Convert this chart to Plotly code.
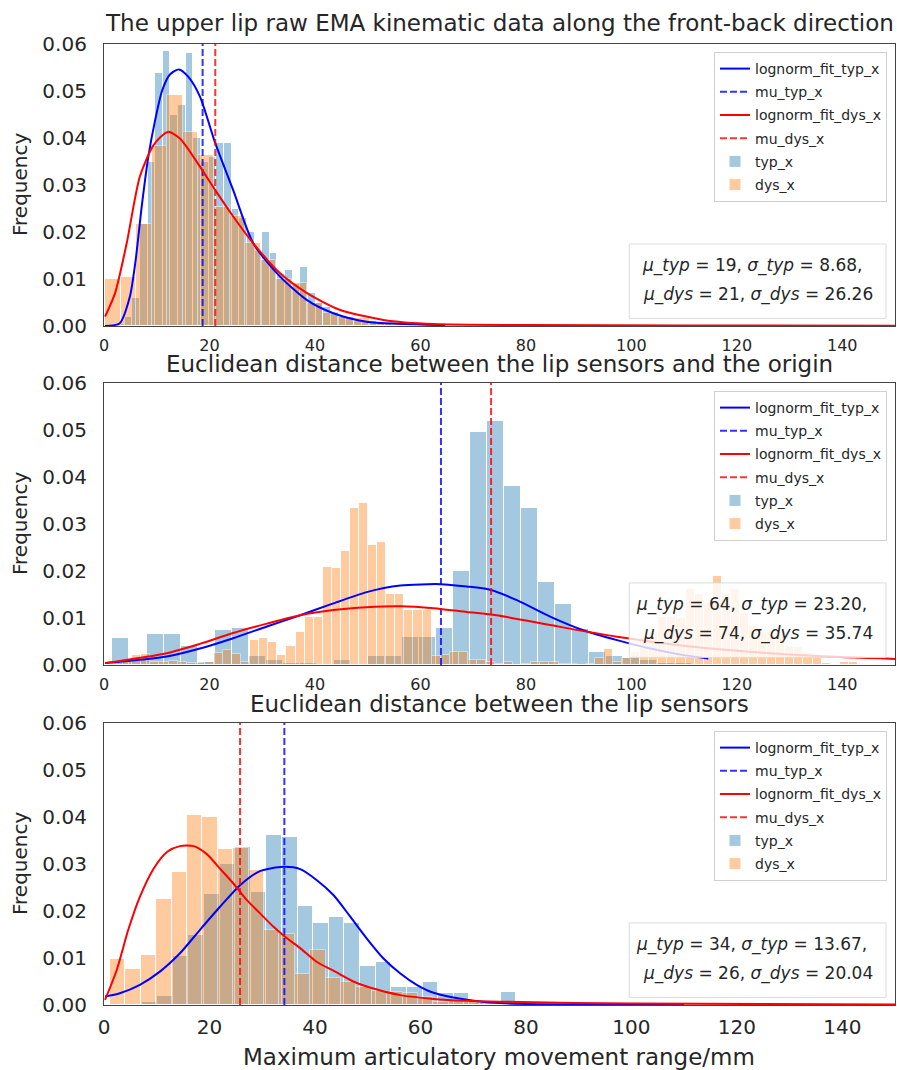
import plotly.graph_objects as go

# ---------------- data ----------------
titles = [
    "The upper lip raw EMA kinematic data along the front-back direction",
    "Euclidean distance between the lip sensors and the origin",
    "Euclidean distance between the lip sensors",
]
x_label = "Maximum articulatory movement range/mm"
y_label = "Frequency"
x_ticks = [0, 20, 40, 60, 80, 100, 120, 140]
y_ticks = [0.00, 0.01, 0.02, 0.03, 0.04, 0.05, 0.06]
stats_line1 = ["<i>μ_typ</i> = 19, <i>σ_typ</i> = 8.68,",
               "<i>μ_typ</i> = 64, <i>σ_typ</i> = 23.20,",
               "<i>μ_typ</i> = 34, <i>σ_typ</i> = 13.67,"]
stats_line2 = ["<i>μ_dys</i> = 21, <i>σ_dys</i> = 26.26",
               "<i>μ_dys</i> = 74, <i>σ_dys</i> = 35.74",
               "<i>μ_dys</i> = 26, <i>σ_dys</i> = 20.04"]

# panel 1 histograms
typ1_bin_start, typ1_bin_width = 1.0, 1.45
typ1_freq = [0.0, 0.0005, 0.002, 0.006, 0.0218, 0.035, 0.0538, 0.0586, 0.045, 0.047,
             0.058, 0.040, 0.035, 0.036, 0.039, 0.039, 0.025, 0.023, 0.0199, 0.016,
             0.0199, 0.0156, 0.011, 0.0119, 0.009, 0.0126, 0.007, 0.005, 0.004, 0.003,
             0.002, 0.002, 0.001, 0.001, 0.001, 0.0005, 0.0005, 0.0003, 0.0003, 0.0003,
             0.0002, 0.0002, 0.0002, 0.0002]
dys1_bin_start, dys1_bin_width = 0.2, 2.95
dys1_freq = [0.0101, 0.0105, 0.0217, 0.0382, 0.0491, 0.0413, 0.0364, 0.0254, 0.0233, 0.0176,
             0.014, 0.0101, 0.0091, 0.0048, 0.0027, 0.002, 0.0016, 0.0006, 0.0004, 0.0003,
             0.0002, 0.0002, 0.0001, 0.0001, 0.0001, 0.0001]

# panel 2 histograms
typ2_bin_start, typ2_bin_width = 1.6, 3.23
typ2_freq = [0.0057, 0.001, 0.0066, 0.0066, 0.004, 0.0007, 0.0074, 0.0079, 0.002, 0.001,
             0.0005, 0.0005, 0.0002, 0.001, 0.0003, 0.002, 0.002, 0.006, 0.006, 0.0078,
             0.0199, 0.0496, 0.0519, 0.038, 0.0333, 0.0177, 0.013, 0.0076, 0.0028, 0.002,
             0.0015, 0.001, 0.0005, 0.0005, 0.0003]
dys2_bin_start, dys2_bin_width = 0.2, 1.72
dys2_freq = [0.0, 0.0005, 0.0008, 0.0021, 0.0023, 0.0006, 0.0006, 0.0008, 0.0006, 0.0005,
             0.0004, 0.0007, 0.0025, 0.0032, 0.0023, 0.0006, 0.0053, 0.0057, 0.0048, 0.0021,
             0.004, 0.0071, 0.0103, 0.0103, 0.0209, 0.0206, 0.0243, 0.0333, 0.0345, 0.0255,
             0.0262, 0.0152, 0.0152, 0.0117, 0.0117, 0.0117, 0.002, 0.0021, 0.0028, 0.0028,
             0.001, 0.001, 0.0007, 0.0003, 0.0007, 0.0, 0.0003, 0.0007, 0.0007, 0.0007,
             0.0003, 0.0003, 0.0, 0.0003, 0.0014, 0.0033, 0.0007, 0.0014, 0.0028, 0.0057,
             0.0071, 0.0103, 0.0103, 0.0099, 0.0161, 0.0152, 0.0131, 0.0189, 0.0152, 0.0161,
             0.011, 0.0082, 0.0071, 0.0071, 0.0067, 0.004, 0.0039, 0.0025, 0.0014, 0.0004,
             0.0, 0.0007, 0.0007, 0.0, 0.0]

# panel 3 histograms
typ3_bin_start, typ3_bin_width = 1.2, 2.96
typ3_freq = [0.0, 0.0003, 0.0007, 0.0019, 0.0104, 0.0149, 0.0236, 0.0301, 0.0337, 0.0241,
             0.0362, 0.0358, 0.0211, 0.0174, 0.0188, 0.0174, 0.0082, 0.0091, 0.0039, 0.0038,
             0.005, 0.0025, 0.0026, 0.0008, 0.0005, 0.0028, 0.0003]
dys3_bin_start, dys3_bin_width = 1.14, 2.92
dys3_freq = [0.0097, 0.0076, 0.0106, 0.0226, 0.0284, 0.0404, 0.0401, 0.0331, 0.0335, 0.0287,
             0.016, 0.0152, 0.0066, 0.0118, 0.0057, 0.005, 0.0039, 0.003, 0.0028, 0.0026,
             0.0016, 0.0007, 0.0009, 0.0008, 0.0005, 0.0005, 0.0003, 0.0003, 0.0002]

# fitted log-normal curves
fit_typ1_x = [0.2, 3.0, 4.9, 6.0, 7.15, 8.4, 9.7, 11.0, 12.5, 14.2, 16.0, 18.2, 21.1, 24.5,
              28.3, 33.4, 38.5, 43.5, 49.8, 64.7]
fit_typ1_y = [0.0, 0.0006, 0.0062, 0.014, 0.0254, 0.036, 0.0438, 0.050, 0.0535, 0.0546,
              0.053, 0.0488, 0.0389, 0.0289, 0.0176, 0.0105, 0.0055, 0.0027, 0.0009, 0.0002]
fit_dys1_x = [0.2, 2.1, 4.3, 6.8, 9.4, 12.1, 14.4, 18.2, 21.1, 24.5, 28.3, 33.4, 38.5, 44.8,
              53.0, 62.5, 80.0, 110.0, 150.0]
fit_dys1_y = [0.002, 0.007, 0.0176, 0.0318, 0.0385, 0.0413, 0.0399, 0.0339, 0.0289, 0.0233,
              0.0176, 0.0112, 0.007, 0.0034, 0.0013, 0.0004, 0.0002, 0.0001, 0.00005]
fit_typ2_x = [0.2, 11.9, 18.2, 24.5, 30.9, 37.2, 43.5, 49.8, 56.2, 63.8, 68.8, 73.2, 78.3,
              84.6, 90.9, 97.3, 103.6, 109.9, 114.6]
fit_typ2_y = [0.0004, 0.0018, 0.0035, 0.0057, 0.0082, 0.0106, 0.0131, 0.0155, 0.0169, 0.0172,
              0.0167, 0.016, 0.0138, 0.0103, 0.0074, 0.0053, 0.0035, 0.0021, 0.0014]
fit_dys2_x = [0.2, 11.9, 18.2, 24.5, 30.9, 37.2, 43.5, 49.8, 56.2, 62.5, 68.8, 74.4, 84.6,
              97.3, 109.9, 122.5, 135.2, 150.0]
fit_dys2_y = [0.0004, 0.0025, 0.0045, 0.0068, 0.0088, 0.0106, 0.0117, 0.0123, 0.0125, 0.0121,
              0.0113, 0.0106, 0.0085, 0.006, 0.0041, 0.0028, 0.0019, 0.0013]
fit_typ3_x = [0.2, 3.0, 6.8, 10.6, 14.4, 18.2, 22.0, 25.8, 29.6, 34.0, 37.2, 40.3, 43.5, 46.7,
              49.8, 53.0, 56.2, 59.3, 62.5, 68.8, 75.1, 90.0, 110.0]
fit_typ3_y = [0.0018, 0.0025, 0.0043, 0.0071, 0.011, 0.016, 0.0209, 0.0255, 0.0285, 0.0294,
              0.0289, 0.0266, 0.0234, 0.0188, 0.0142, 0.0099, 0.0067, 0.0043, 0.0026, 0.0011,
              0.0004, 0.0001, 0.0]
fit_dys3_x = [0.2, 2.4, 4.6, 6.8, 9.4, 12.0, 14.4, 17.0, 19.5, 22.0, 24.5, 27.1, 29.6, 32.1,
              34.7, 37.2, 40.3, 43.5, 47.3, 51.1, 56.2, 62.5, 68.8, 75.1, 100.0, 150.0]
fit_dys3_y = [0.0011, 0.0074, 0.016, 0.023, 0.029, 0.0326, 0.0338, 0.0338, 0.0321, 0.029,
              0.0259, 0.0223, 0.0195, 0.0167, 0.0142, 0.0121, 0.0092, 0.0073, 0.005, 0.0035,
              0.0021, 0.0013, 0.0009, 0.0007, 0.0003, 0.0001]

# mean lines (x position of the dashed verticals)
mu_typ = [18.7, 63.9, 34.2]
mu_dys = [21.1, 73.4, 25.8]

# ---------------- figure ----------------
FONT = "DejaVu Sans"
TXT = "#262626"
W, H = 897, 1070
px_left, px_right = 104, 895
panel_px = [(44, 326), (383, 665), (723, 1005)]
title_gap = [21, 19, 19]

def bar_centers(start, width, n):
    return [start + width * (i + 0.5) for i in range(n)]

typ_hists = [(typ1_bin_start, typ1_bin_width, typ1_freq),
             (typ2_bin_start, typ2_bin_width, typ2_freq),
             (typ3_bin_start, typ3_bin_width, typ3_freq)]
dys_hists = [(dys1_bin_start, dys1_bin_width, dys1_freq),
             (dys2_bin_start, dys2_bin_width, dys2_freq),
             (dys3_bin_start, dys3_bin_width, dys3_freq)]
typ_fits = [(fit_typ1_x, fit_typ1_y), (fit_typ2_x, fit_typ2_y), (fit_typ3_x, fit_typ3_y)]
dys_fits = [(fit_dys1_x, fit_dys1_y), (fit_dys2_x, fit_dys2_y), (fit_dys3_x, fit_dys3_y)]

fig = go.Figure()
BLUE_FILL = "#1f77b4"
ORANGE_FILL = "#ff7f0e"
DASH = "7px,3px"

layout_axes = {}
annotations = []
shapes = []
legends = {}

for i in range(3):
    sfx = "" if i == 0 else str(i + 1)
    xa, ya = "x" + sfx, "y" + sfx
    leg = "legend" + sfx
    top, bot = panel_px[i]
    ydom = [1 - bot / H, 1 - top / H]
    xdom = [px_left / W, px_right / W]

    s, w, f = typ_hists[i]
    fig.add_trace(go.Bar(x=bar_centers(s, w, len(f)), y=f, width=w, name="typ_x",
                         marker=dict(color=BLUE_FILL, line=dict(color="white", width=1)),
                         opacity=0.4, xaxis=xa, yaxis=ya, legend=leg, legendrank=5,
                         legendgroup=f"g5_{i}"))
    s, w, f = dys_hists[i]
    fig.add_trace(go.Bar(x=bar_centers(s, w, len(f)), y=f, width=w, name="dys_x",
                         marker=dict(color=ORANGE_FILL, line=dict(color="white", width=1)),
                         opacity=0.4, xaxis=xa, yaxis=ya, legend=leg, legendrank=6,
                         legendgroup=f"g6_{i}"))
    fx, fy = typ_fits[i]
    fig.add_trace(go.Scatter(x=fx, y=fy, mode="lines", name="lognorm_fit_typ_x",
                             line=dict(color="blue", width=2, shape="spline", smoothing=0.7),
                             xaxis=xa, yaxis=ya, legend=leg, legendrank=1,
                             legendgroup=f"g1_{i}"))
    fig.add_trace(go.Scatter(x=[mu_typ[i], mu_typ[i]], y=[0, 0.06], mode="lines", name="mu_typ_x",
                             line=dict(color="rgba(0,0,255,0.8)", width=2, dash=DASH),
                             xaxis=xa, yaxis=ya, legend=leg, legendrank=2,
                             legendgroup=f"g2_{i}"))
    fx, fy = dys_fits[i]
    fig.add_trace(go.Scatter(x=fx, y=fy, mode="lines", name="lognorm_fit_dys_x",
                             line=dict(color="red", width=2, shape="spline", smoothing=0.7),
                             xaxis=xa, yaxis=ya, legend=leg, legendrank=3,
                             legendgroup=f"g3_{i}"))
    fig.add_trace(go.Scatter(x=[mu_dys[i], mu_dys[i]], y=[0, 0.06], mode="lines", name="mu_dys_x",
                             line=dict(color="rgba(255,0,0,0.8)", width=2, dash=DASH),
                             xaxis=xa, yaxis=ya, legend=leg, legendrank=4,
                             legendgroup=f"g4_{i}"))

    layout_axes["xaxis" + sfx] = dict(
        domain=xdom, anchor=ya, range=[0, 150], tickvals=x_ticks, automargin=False,
        showline=True, mirror=True, linecolor="#444", linewidth=1.2,
        showgrid=False, zeroline=False, ticks="outside", ticklen=5 if i < 2 else 4,
        tickcolor="rgba(0,0,0,0)",
        tickfont=dict(family=FONT, size=16 if i < 2 else 20, color=TXT))
    layout_axes["yaxis" + sfx] = dict(
        domain=ydom, anchor=xa, range=[0, 0.06], tickvals=y_ticks, tickformat=".2f",
        automargin=False,
        showline=True, mirror=True, linecolor="#444", linewidth=1.2,
        showgrid=False, zeroline=False, ticks="outside", ticklen=12, tickcolor="rgba(0,0,0,0)",
        tickfont=dict(family=FONT, size=20, color=TXT))

    legends[leg] = dict(x=887 / W, y=1 - (top + 8) / H, xanchor="right", yanchor="top",
                        bgcolor="rgba(255,255,255,0.85)", bordercolor="#d0d0d0", borderwidth=1,
                        font=dict(family=FONT, size=14, color=TXT),
                        traceorder="grouped", tracegroupgap=2)

    # title
    annotations.append(dict(text=titles[i], xref="paper", yref="paper",
                            x=(px_left + px_right) / 2 / W, y=1 - (top - title_gap[i]) / H,
                            xanchor="center", yanchor="middle", showarrow=False,
                            font=dict(family=FONT, size=23, color=TXT)))
    # y label
    annotations.append(dict(text=y_label, xref="paper", yref="paper", x=20 / W,
                            y=1 - (top + bot) / 2 / H, textangle=-90, xanchor="center",
                            yanchor="middle", showarrow=False,
                            font=dict(family=FONT, size=20, color=TXT)))
    # stats box
    shapes.append(dict(type="rect", xref=xa + " domain", yref=ya + " domain",
                       x0=0.664, x1=0.9886, y0=0.027, y1=0.291,
                       line=dict(color="#dcdcdc", width=1), fillcolor="rgba(255,255,255,0.8)",
                       layer="above"))
    annotations.append(dict(text=stats_line1[i], xref=xa + " domain", yref=ya + " domain",
                            x=0.819, y=0.214, xanchor="center", yanchor="middle",
                            showarrow=False, font=dict(family=FONT, size=17, color=TXT)))
    annotations.append(dict(text=stats_line2[i], xref=xa + " domain", yref=ya + " domain",
                            x=0.827, y=0.112, xanchor="center", yanchor="middle",
                            showarrow=False, font=dict(family=FONT, size=17, color=TXT)))

annotations.append(dict(text=x_label, xref="paper", yref="paper",
                        x=(px_left + px_right) / 2 / W, y=1 - 1057 / H,
                        xanchor="center", yanchor="middle", showarrow=False,
                        font=dict(family=FONT, size=23, color=TXT)))

fig.update_layout(width=W, height=H, margin=dict(l=0, r=0, t=0, b=0, autoexpand=False),
                  paper_bgcolor="white", plot_bgcolor="white", barmode="overlay",
                  bargap=0, annotations=annotations, shapes=shapes,
                  font=dict(family=FONT, color=TXT), **layout_axes, **legends)

fig.write_html("out.html")
